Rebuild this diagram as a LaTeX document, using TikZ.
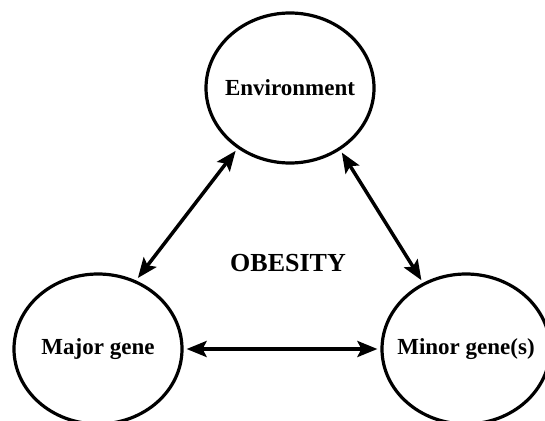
\documentclass[tikz,border=0pt]{standalone}
\usepackage{fontspec}
\setmainfont{Liberation Serif}
\usetikzlibrary{shapes.geometric,arrows.meta}
\newcommand{\flatlabel}[1]{\makebox[0pt]{#1}}
\begin{document}
\begin{tikzpicture}[x=1pt,y=1pt,
  factor/.style={ellipse,draw,line width=3.2pt,minimum width=168pt,minimum height=150pt,inner sep=0pt,
    font=\fontsize{23}{27}\selectfont\bfseries},
  link/.style={line width=3.5pt,{Stealth[length=20pt,width=16pt,inset=4pt]}-{Stealth[length=20pt,width=16pt,inset=4pt]},
    shorten <=3pt,shorten >=3pt}]
\clip (0,0) rectangle (545,-420);
\useasboundingbox (0,0) rectangle (545,-420);
\node[factor] (env) at (290,-88) {\flatlabel{Environment}};
\node[factor] (major) at (98,-349) {\flatlabel{Major gene}};
\node[factor] (minor) at (466,-349) {\flatlabel{Minor gene(s)}};
\node[font=\fontsize{26}{30}\selectfont\bfseries] (ob) at (288,-263) {OBESITY};
\draw[link] (env.229.8) -- (major.61.2);
\draw[link] (env.309.1) -- (minor.123.7);
\draw[link] (major.0) -- (minor.180);
\end{tikzpicture}
\end{document}
